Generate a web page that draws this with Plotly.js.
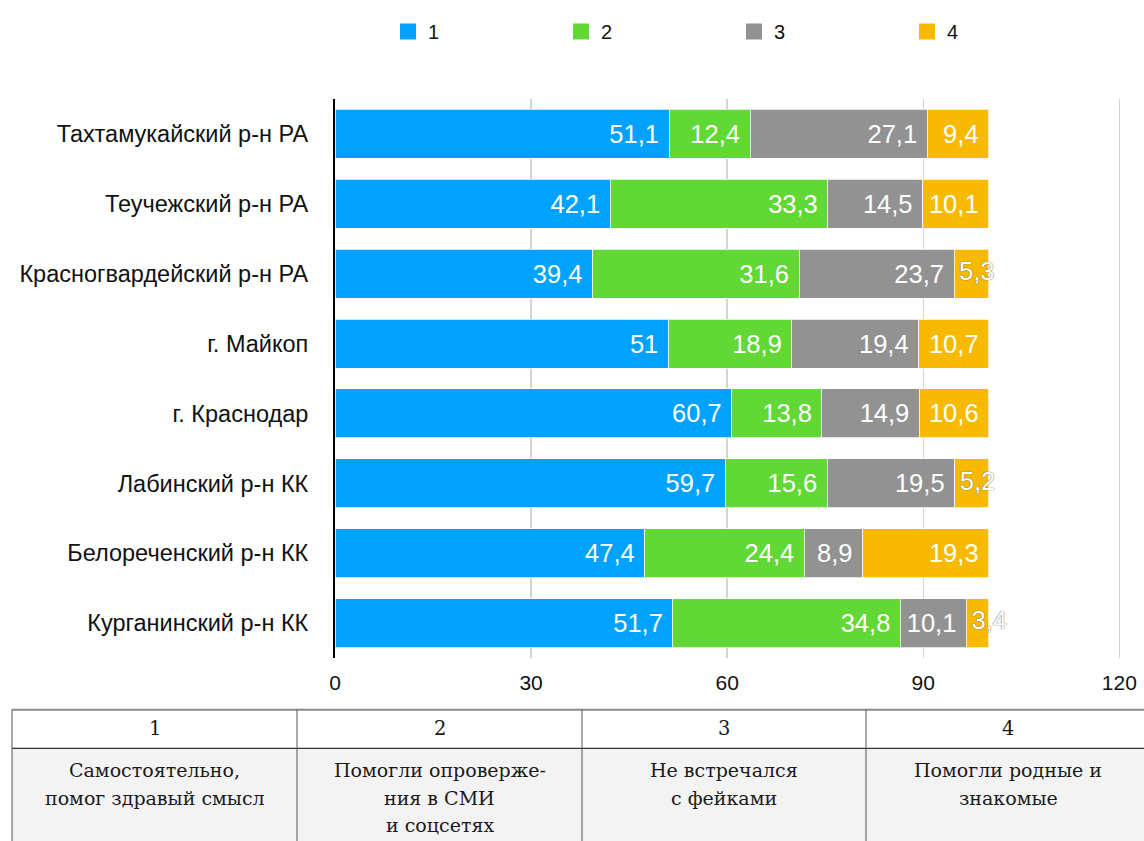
<!DOCTYPE html>
<html>
<head>
<meta charset="utf-8">
<script src="https://cdn.plot.ly/plotly-3.0.1.min.js"></script>
<style>html,body{margin:0;padding:0;background:#fff;}#chart{width:1144px;height:841px;}</style>
</head>
<body>
<div id="chart"></div>
<script>
// ---- data ----
const categories = [
  'Тахтамукайский р-н РА',
  'Теучежский р-н РА',
  'Красногвардейский р-н РА',
  'г. Майкоп',
  'г. Краснодар',
  'Лабинский р-н КК',
  'Белореченский р-н КК',
  'Курганинский р-н КК'
];
const seriesNames = ['1', '2', '3', '4'];
const series1 = [51.1, 42.1, 39.4, 51, 60.7, 59.7, 47.4, 51.7];
const series2 = [12.4, 33.3, 31.6, 18.9, 13.8, 15.6, 24.4, 34.8];
const series3 = [27.1, 14.5, 23.7, 19.4, 14.9, 19.5, 8.9, 10.1];
const series4 = [9.4, 10.1, 5.3, 10.7, 10.6, 5.2, 19.3, 3.4];
const xTickVals = [0, 30, 60, 90, 120];
const tableHeaders = ['1', '2', '3', '4'];
const tableDescriptions = [
  ['Самостоятельно,', 'помог здравый смысл'],
  ['Помогли опроверже-', 'ния в СМИ', 'и соцсетях'],
  ['Не встречался', 'с фейками'],
  ['Помогли родные и', 'знакомые']
];

// ---- styling ----
const colors = ['#00A2FF', '#61D836', '#929292', '#F8BA00'];
const W = 1144, H = 841;
const M = {l: 335, r: 22, t: 95, b: 183};
const plotW = W - M.l - M.r, plotH = H - M.t - M.b;
const px2x = px => (px - M.l) / plotW;
const py2y = py => (H - M.b - py) / plotH;
const fmt = v => String(v).replace('.', ',');
const sans = 'Liberation Sans, Arial, sans-serif';
const LABEL_SIZE = 25.5;
const NARROW = 6; // segments narrower than this get an overflowing left-aligned label

const allSeries = [series1, series2, series3, series4];
const traces = allSeries.map((vals, i) => ({
  type: 'bar',
  orientation: 'h',
  y: categories,
  x: vals,
  name: seriesNames[i],
  showlegend: false,
  marker: {color: colors[i], line: {color: 'rgba(255,255,255,0.75)', width: 1}},
  text: vals.map(v => v < NARROW ? '' : fmt(v) + '\u00a0'),
  textposition: 'inside',
  insidetextanchor: 'end',
  constraintext: 'none',
  textangle: 0,
  cliponaxis: false,
  textfont: {family: sans, size: LABEL_SIZE, color: '#ffffff'},
  hoverinfo: 'x+y+name'
}));

// overflowing labels for narrow segments (left-aligned at segment start)
const ovX = [], ovY = [], ovT = [];
allSeries.forEach((vals, i) => vals.forEach((v, j) => {
  if (v < NARROW) {
    let start = 0;
    for (let k = 0; k < i; k++) start += allSeries[k][j];
    ovX.push(start); ovY.push(categories[j]); ovT.push('\u2009' + fmt(v));
  }
}));
traces.push({
  type: 'scatter', mode: 'text', x: ovX, y: ovY, text: ovT,
  textposition: 'middle right', showlegend: false, hoverinfo: 'skip', cliponaxis: false,
  textfont: {family: sans, size: LABEL_SIZE, color: '#ffffff',
    shadow: '0px 0px 1px #6a6a6a, 0px 0px 1px #6a6a6a'}
});

// legend proxies (larger square swatches)
seriesNames.forEach((n, i) => traces.push({
  type: 'scatter', mode: 'markers', x: [null], y: [null], name: n,
  marker: {symbol: 'square', size: 17, color: colors[i]},
  showlegend: true, hoverinfo: 'skip'
}));

// table shapes / annotations
const colEdges = [12, 297, 582, 866, 1150];
const tTop = 710, tMid = 749, tBot = 841;
const shapes = [];
const annotations = [];
shapes.push({type: 'rect', xref: 'paper', yref: 'paper', x0: px2x(colEdges[0]), x1: px2x(colEdges[4]),
  y0: py2y(tMid), y1: py2y(tBot + 5), fillcolor: '#f3f3f3', line: {width: 0}, layer: 'below'});
shapes.push({type: 'line', xref: 'paper', yref: 'paper', x0: px2x(colEdges[0]), x1: px2x(colEdges[4]),
  y0: py2y(tTop), y1: py2y(tTop), line: {color: '#8a8a8a', width: 2}});
shapes.push({type: 'line', xref: 'paper', yref: 'paper', x0: px2x(colEdges[0]), x1: px2x(colEdges[4]),
  y0: py2y(tMid), y1: py2y(tMid), line: {color: '#333333', width: 1.2}});
colEdges.slice(0, 4).forEach(cx => shapes.push({type: 'line', xref: 'paper', yref: 'paper',
  x0: px2x(cx), x1: px2x(cx), y0: py2y(tTop), y1: py2y(tBot + 5), line: {color: '#555555', width: 1}}));
const serif = 'DejaVu Serif, serif';
tableHeaders.forEach((h, i) => {
  const cx = (colEdges[i] + colEdges[i + 1]) / 2;
  annotations.push({xref: 'paper', yref: 'paper', x: px2x(cx), y: py2y(729), text: h, showarrow: false,
    xanchor: 'center', yanchor: 'middle', font: {family: serif, size: 19.5, color: '#1a1a1a'}});
  tableDescriptions[i].forEach((line, k) => {
    annotations.push({xref: 'paper', yref: 'paper', x: px2x(cx), y: py2y(771 + 27.5 * k), text: line, showarrow: false,
      xanchor: 'center', yanchor: 'middle', font: {family: serif, size: 19, color: '#1a1a1a'}});
  });
});

const layout = {
  width: W, height: H,
  margin: M,
  paper_bgcolor: '#ffffff', plot_bgcolor: '#ffffff',
  barmode: 'stack',
  bargap: 0.3,
  font: {family: sans, color: '#111'},
  xaxis: {
    range: [0, 120.4], tickvals: xTickVals, ticktext: xTickVals.map(String),
    showgrid: true, gridcolor: '#d4d4d4', gridwidth: 1.5,
    zeroline: false, showline: false, ticks: '', ticklabelstandoff: 10,
    tickfont: {size: 21, color: '#111'}, fixedrange: true
  },
  yaxis: {
    autorange: 'reversed', type: 'category',
    showline: true, linecolor: '#000', linewidth: 2,
    showgrid: false, ticks: '', ticklabelstandoff: 20,
    tickfont: {size: 23.5, color: '#111'}, fixedrange: true
  },
  legend: {
    orientation: 'h', x: px2x(388), xanchor: 'left', y: py2y(27), yanchor: 'middle',
    entrywidth: 128, entrywidthmode: 'pixels', traceorder: 'normal',
    font: {size: 20, color: '#111'}, bgcolor: 'rgba(0,0,0,0)'
  },
  shapes: shapes,
  annotations: annotations,
  showlegend: true
};

Plotly.newPlot('chart', traces, layout, {displayModeBar: false, staticPlot: true});
</script>
</body>
</html>
